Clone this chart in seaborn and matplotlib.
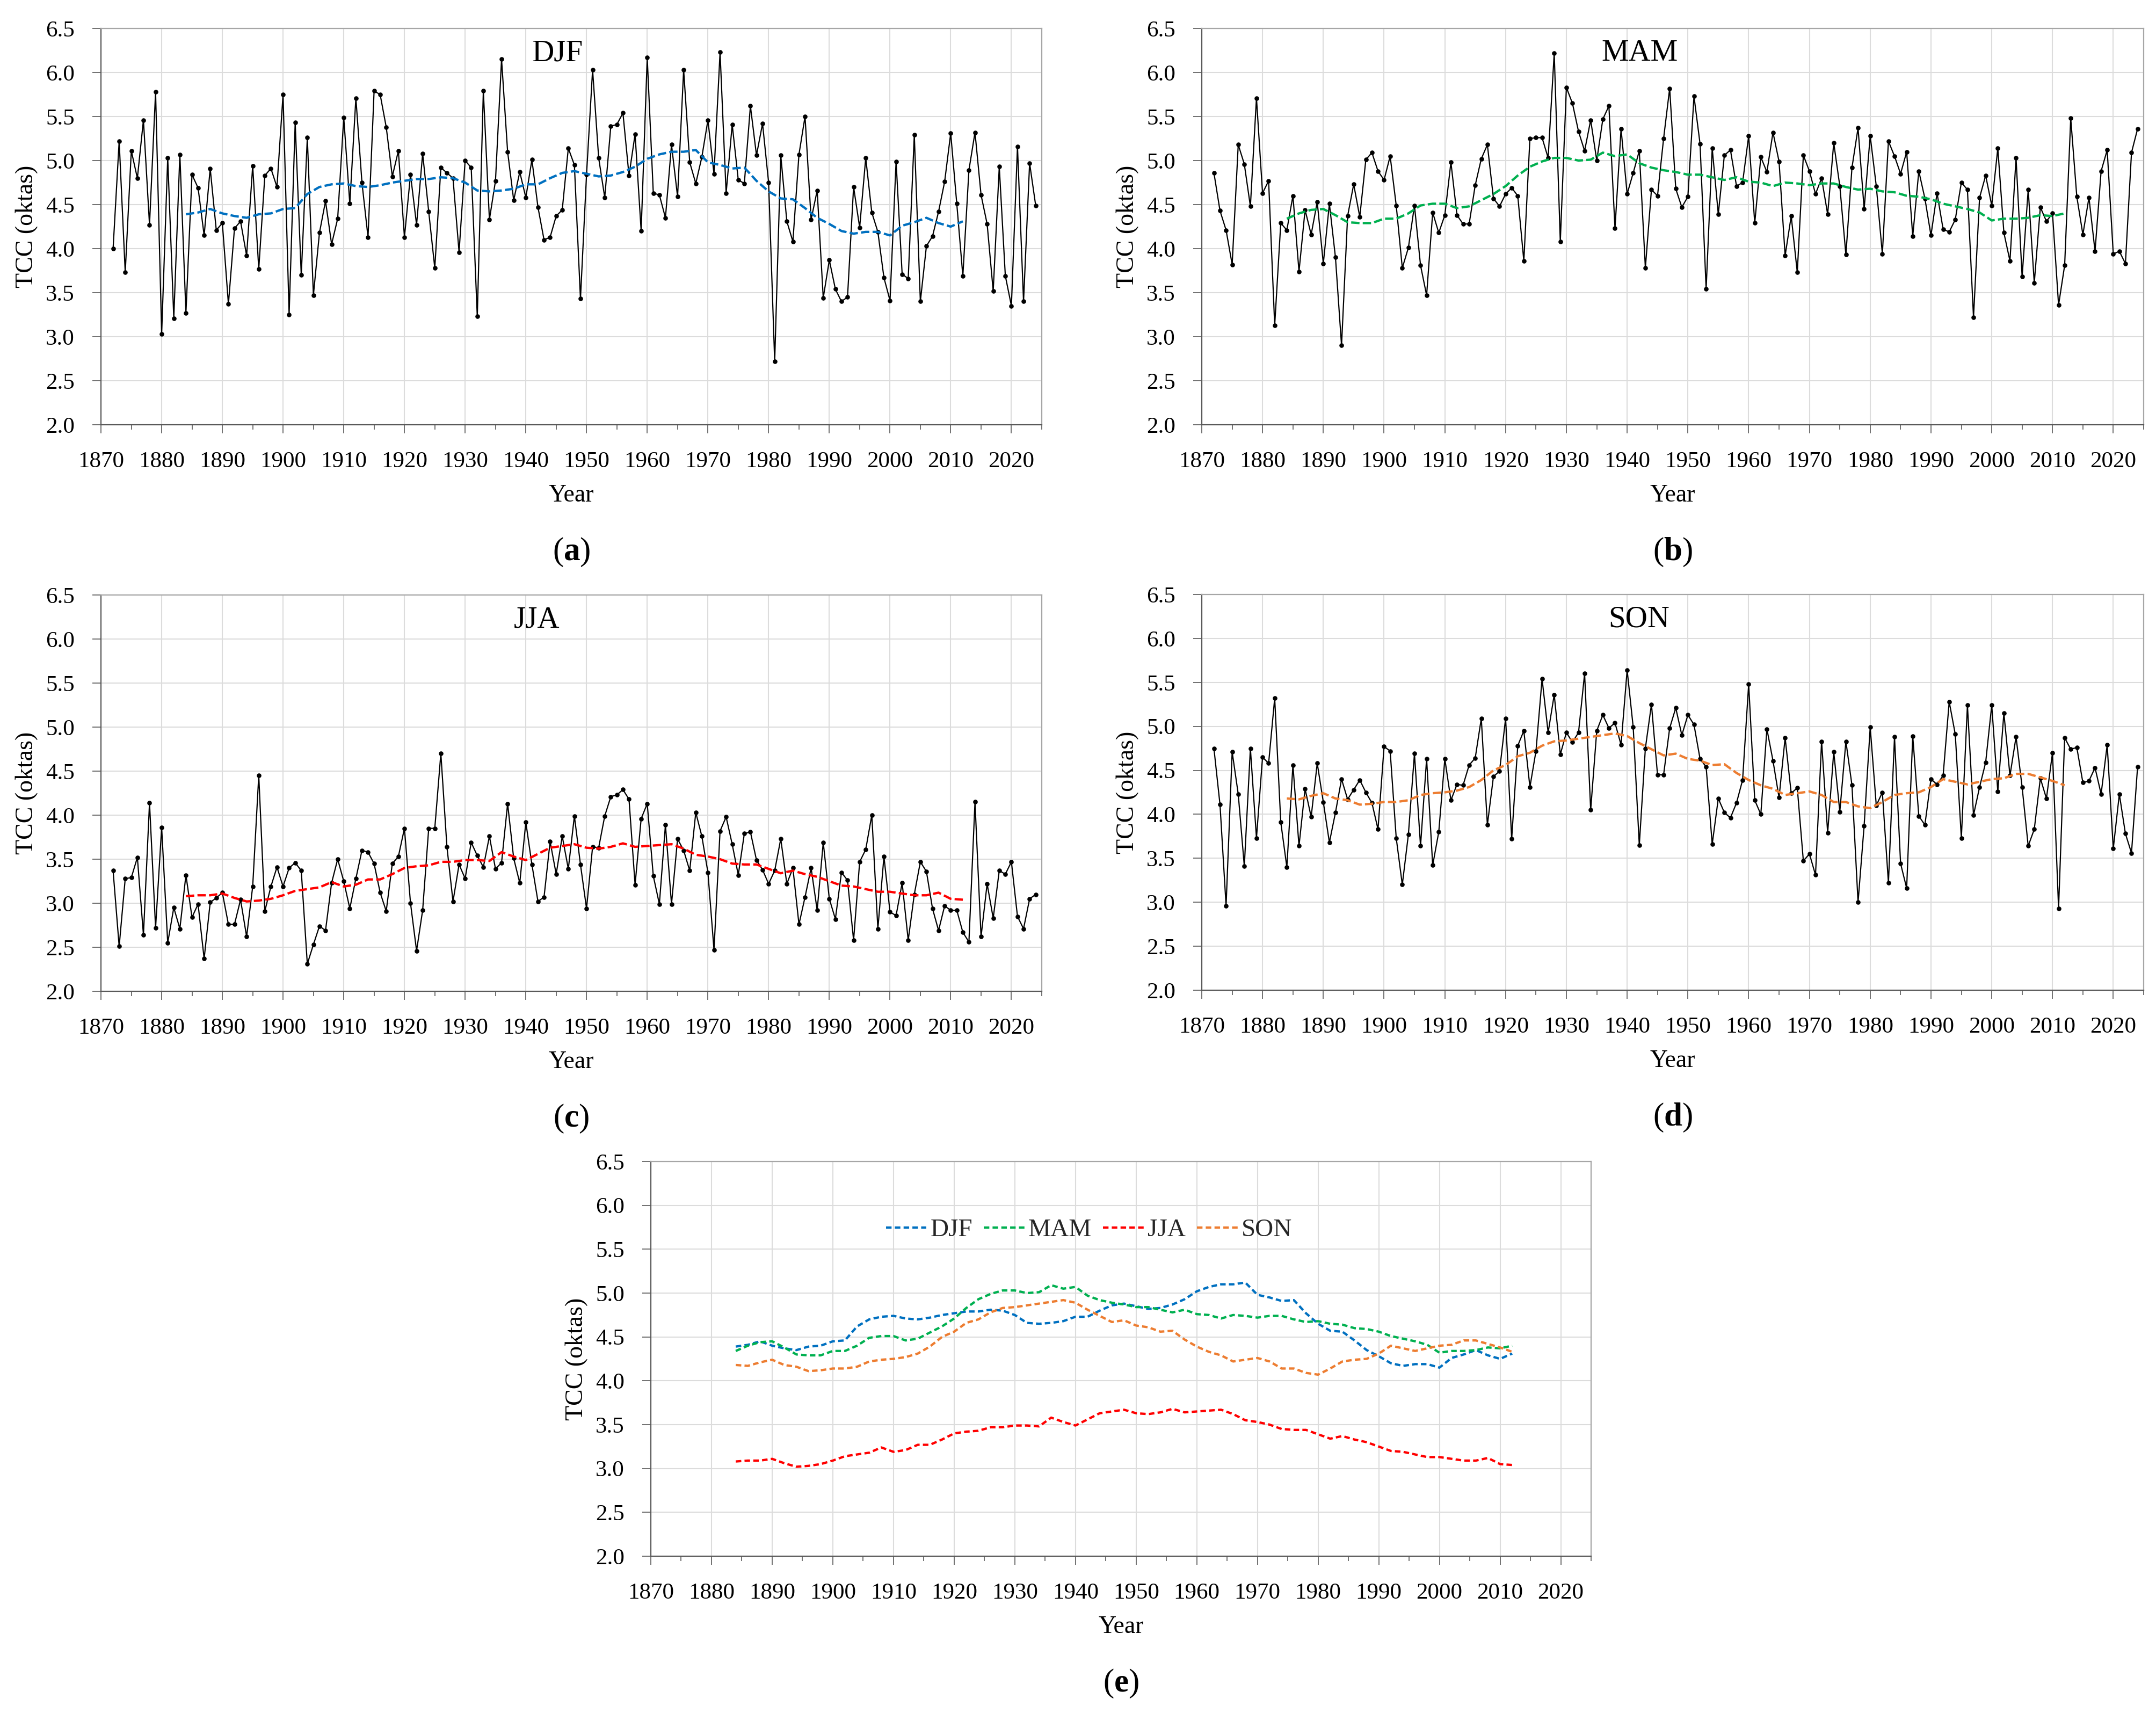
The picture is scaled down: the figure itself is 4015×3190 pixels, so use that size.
import pandas as pd
import seaborn as sns
import matplotlib.pyplot as plt
from matplotlib.ticker import MultipleLocator, FormatStrFormatter


# Lata pomiarów i lata średniej kroczącej (co 2 lata)
years = list(range(1872, 2025))
ma_years = list(range(1884, 2013, 2))

# Sezonowe TCC (oktas), 1872-2024
djf = [4.00, 5.22, 3.73, 5.11, 4.80, 5.46, 4.27, 5.78,
       3.03, 5.03, 3.21, 5.07, 3.27, 4.84, 4.69, 4.15, 4.91, 4.21,
       4.29, 3.37, 4.23, 4.31, 3.92, 4.94, 3.77, 4.83, 4.91, 4.70,
       5.75, 3.25, 5.43, 3.70, 5.26, 3.47, 4.18, 4.54, 4.05, 4.34,
       5.49, 4.51, 5.71, 4.75, 4.13, 5.79, 5.75, 5.38, 4.82, 5.11,
       4.13, 4.84, 4.27, 5.08, 4.42, 3.78, 4.92, 4.86, 4.80, 3.96,
       5.00, 4.92, 3.23, 5.79, 4.33, 4.77, 6.15, 5.10, 4.55, 4.87,
       4.58, 5.01, 4.47, 4.10, 4.13, 4.37, 4.44, 5.14, 4.95, 3.43,
       4.84, 6.03, 5.03, 4.58, 5.39, 5.41, 5.54, 4.83, 5.30, 4.20,
       6.17, 4.63, 4.61, 4.35, 5.18, 4.59, 6.03, 4.98, 4.74, 5.04,
       5.46, 4.85, 6.23, 4.63, 5.41, 4.78, 4.74, 5.62, 5.06, 5.42,
       4.75, 2.72, 5.06, 4.31, 4.08, 5.07, 5.50, 4.33, 4.66, 3.44,
       3.87, 3.54, 3.40, 3.45, 4.70, 4.24, 5.03, 4.41, 4.19, 3.67,
       3.41, 4.99, 3.71, 3.66, 5.29, 3.40, 4.03, 4.14, 4.42, 4.76,
       5.31, 4.51, 3.69, 4.89, 5.32, 4.61, 4.28, 3.52, 4.93, 3.69,
       3.35, 5.16, 3.40, 4.97, 4.49]

mam = [4.86, 4.43, 4.21, 3.82, 5.18, 4.96, 4.48, 5.71,
       4.63, 4.77, 3.13, 4.29, 4.21, 4.60, 3.74, 4.44, 4.16, 4.53,
       3.83, 4.51, 3.90, 2.90, 4.37, 4.73, 4.36, 5.01, 5.09, 4.88,
       4.78, 5.05, 4.49, 3.78, 4.01, 4.49, 3.81, 3.47, 4.41, 4.18,
       4.38, 4.98, 4.38, 4.28, 4.28, 4.72, 5.02, 5.18, 4.57, 4.48,
       4.62, 4.69, 4.60, 3.86, 5.25, 5.26, 5.26, 5.03, 6.22, 4.08,
       5.83, 5.65, 5.33, 5.11, 5.46, 5.00, 5.47, 5.62, 4.23, 5.36,
       4.62, 4.86, 5.11, 3.78, 4.67, 4.60, 5.25, 5.82, 4.68, 4.47,
       4.59, 5.73, 5.19, 3.54, 5.14, 4.39, 5.06, 5.12, 4.71, 4.75,
       5.28, 4.29, 5.04, 4.87, 5.32, 4.99, 3.92, 4.37, 3.73, 5.06,
       4.88, 4.62, 4.80, 4.39, 5.20, 4.71, 3.93, 4.92, 5.37, 4.45,
       5.28, 4.71, 3.94, 5.22, 5.05, 4.85, 5.10, 4.14, 4.88, 4.57,
       4.15, 4.63, 4.22, 4.19, 4.33, 4.75, 4.67, 3.22, 4.58, 4.83,
       4.49, 5.14, 4.18, 3.86, 5.03, 3.68, 4.67, 3.61, 4.47, 4.31,
       4.40, 3.36, 3.81, 5.48, 4.59, 4.16, 4.58, 3.97, 4.88, 5.12,
       3.94, 3.97, 3.83, 5.09, 5.36]

jja = [3.37, 2.51, 3.28, 3.29, 3.52, 2.64, 4.14, 2.72,
       3.86, 2.55, 2.95, 2.71, 3.32, 2.84, 2.99, 2.37, 3.01, 3.06,
       3.12, 2.76, 2.76, 3.04, 2.62, 3.19, 4.45, 2.91, 3.19, 3.41,
       3.19, 3.40, 3.46, 3.37, 2.31, 2.53, 2.74, 2.69, 3.23, 3.50,
       3.25, 2.94, 3.28, 3.60, 3.58, 3.45, 3.12, 2.91, 3.45, 3.53,
       3.85, 3.00, 2.46, 2.92, 3.85, 3.85, 4.70, 3.64, 3.02, 3.44,
       3.28, 3.69, 3.54, 3.41, 3.76, 3.39, 3.46, 4.13, 3.51, 3.23,
       3.92, 3.44, 3.02, 3.07, 3.70, 3.33, 3.76, 3.39, 3.99, 3.44,
       2.94, 3.64, 3.63, 3.99, 4.21, 4.23, 4.29, 4.18, 3.21, 3.96,
       4.13, 3.31, 2.99, 3.89, 2.99, 3.73, 3.60, 3.37, 4.03, 3.76,
       3.35, 2.47, 3.82, 3.98, 3.67, 3.32, 3.79, 3.81, 3.49, 3.38,
       3.22, 3.37, 3.73, 3.22, 3.40, 2.76, 3.07, 3.40, 2.92, 3.69,
       3.05, 2.82, 3.35, 3.26, 2.58, 3.47, 3.61, 4.00, 2.71, 3.53,
       2.90, 2.86, 3.23, 2.58, 3.10, 3.47, 3.36, 2.94, 2.69, 2.97,
       2.92, 2.92, 2.67, 2.56, 4.15, 2.62, 3.22, 2.83, 3.37, 3.33,
       3.47, 2.85, 2.71, 3.05, 3.10]

son = [4.75, 4.11, 2.96, 4.71, 4.23, 3.41, 4.75, 3.73,
       4.65, 4.58, 5.32, 3.91, 3.40, 4.56, 3.64, 4.29, 3.97, 4.58,
       4.14, 3.68, 4.02, 4.40, 4.17, 4.28, 4.39, 4.25, 4.13, 3.83,
       4.77, 4.72, 3.73, 3.20, 3.77, 4.69, 3.64, 4.63, 3.42, 3.80,
       4.63, 4.16, 4.34, 4.33, 4.56, 4.64, 5.09, 3.88, 4.43, 4.49,
       5.09, 3.72, 4.78, 4.95, 4.31, 4.72, 5.54, 4.93, 5.36, 4.68,
       4.93, 4.82, 4.93, 5.60, 4.05, 4.95, 5.13, 4.98, 5.04, 4.79,
       5.64, 4.99, 3.65, 4.75, 5.25, 4.45, 4.45, 4.98, 5.21, 4.90,
       5.13, 5.02, 4.63, 4.54, 3.66, 4.18, 4.02, 3.96, 4.13, 4.39,
       5.48, 4.16, 4.00, 4.97, 4.61, 4.19, 4.87, 4.24, 4.30, 3.47,
       3.55, 3.31, 4.83, 3.79, 4.71, 4.03, 4.83, 4.33, 3.00, 3.87,
       4.99, 4.10, 4.25, 3.22, 4.88, 3.44, 3.16, 4.89, 3.98, 3.88,
       4.40, 4.34, 4.44, 5.28, 4.91, 3.73, 5.24, 3.99, 4.31, 4.59,
       5.24, 4.26, 5.15, 4.44, 4.88, 4.31, 3.64, 3.83, 4.41, 4.18,
       4.70, 2.93, 4.87, 4.74, 4.76, 4.36, 4.38, 4.53, 4.23, 4.79,
       3.61, 4.23, 3.78, 3.56, 4.54]

# Średnie kroczące (1884-2012, co 2 lata)
djf_ma = [4.39, 4.41, 4.45, 4.40, 4.37, 4.35, 4.39, 4.40, 4.45, 4.46,
          4.62, 4.70, 4.73, 4.74, 4.71, 4.70, 4.72, 4.75, 4.77, 4.79,
          4.79, 4.81, 4.80, 4.75, 4.66, 4.65, 4.66, 4.68, 4.73, 4.73,
          4.80, 4.86, 4.88, 4.85, 4.82, 4.83, 4.87, 4.93, 5.02, 5.07,
          5.10, 5.10, 5.12, 4.98, 4.95, 4.91, 4.92, 4.77, 4.65, 4.57,
          4.56, 4.46, 4.35, 4.28, 4.20, 4.17, 4.19, 4.19, 4.15, 4.26,
          4.30, 4.35, 4.29, 4.25, 4.31]
mam_ma = [4.34, 4.40, 4.44, 4.45, 4.38, 4.30, 4.29, 4.29, 4.34, 4.34,
          4.40, 4.49, 4.51, 4.51, 4.46, 4.48, 4.55, 4.62, 4.71, 4.83,
          4.93, 4.99, 5.03, 5.03, 5.00, 5.01, 5.09, 5.05, 5.07, 4.97,
          4.92, 4.89, 4.87, 4.84, 4.84, 4.81, 4.78, 4.81, 4.76, 4.75,
          4.71, 4.75, 4.74, 4.72, 4.74, 4.74, 4.70, 4.67, 4.68, 4.65,
          4.64, 4.60, 4.59, 4.56, 4.51, 4.48, 4.45, 4.41, 4.32, 4.34,
          4.34, 4.35, 4.38, 4.37, 4.40]
jja_ma = [3.08, 3.09, 3.09, 3.11, 3.06, 3.02, 3.03, 3.05, 3.09, 3.14,
          3.16, 3.18, 3.24, 3.19, 3.21, 3.27, 3.27, 3.33, 3.40, 3.42,
          3.43, 3.47, 3.47, 3.49, 3.49, 3.48, 3.58, 3.53, 3.49, 3.56,
          3.63, 3.65, 3.67, 3.63, 3.62, 3.64, 3.68, 3.64, 3.65, 3.66,
          3.67, 3.62, 3.55, 3.53, 3.50, 3.45, 3.44, 3.44, 3.39, 3.34,
          3.37, 3.33, 3.30, 3.25, 3.20, 3.19, 3.16, 3.13, 3.13, 3.11,
          3.09, 3.09, 3.12, 3.05, 3.04]
son_ma = [4.18, 4.17, 4.21, 4.24, 4.18, 4.16, 4.11, 4.12, 4.14, 4.14,
          4.16, 4.22, 4.24, 4.25, 4.27, 4.31, 4.39, 4.50, 4.56, 4.66,
          4.70, 4.78, 4.83, 4.84, 4.86, 4.88, 4.90, 4.92, 4.89, 4.81,
          4.74, 4.67, 4.69, 4.63, 4.61, 4.56, 4.57, 4.47, 4.39, 4.33,
          4.29, 4.22, 4.24, 4.26, 4.22, 4.14, 4.14, 4.09, 4.07, 4.14,
          4.22, 4.24, 4.25, 4.31, 4.40, 4.37, 4.34, 4.37, 4.40, 4.41,
          4.46, 4.46, 4.42, 4.38, 4.33]

seasons = ['DJF', 'MAM', 'JJA', 'SON']
season_colors = {'DJF': '#0070C0', 'MAM': '#00B050', 'JJA': '#FF0000', 'SON': '#ED7D31'}

sns.set_theme(style='whitegrid')
plt.rcParams['font.family'] = ['Liberation Serif', 'DejaVu Serif']
plt.rcParams['mathtext.fontset'] = 'custom'
plt.rcParams['mathtext.rm'] = 'Liberation Serif'
plt.rcParams['mathtext.bf'] = 'Liberation Serif:bold'

W, H = 4015, 3190
fig = plt.figure(figsize=(W / 100, H / 100), dpi=100)
fig.patch.set_facecolor('white')


# Prostokąt osi z pikseli (lewo, góra, prawo, dół)
def px_rect(l, t, r, b):
    return [l / W, 1 - b / H, (r - l) / W, (b - t) / H]


def style_axes(ax):
    ax.set_xlim(1870, 2025)
    ax.set_ylim(2.0, 6.5)
    ax.xaxis.set_major_locator(MultipleLocator(10))
    ax.xaxis.set_minor_locator(MultipleLocator(5))
    ax.yaxis.set_major_locator(MultipleLocator(0.5))
    ax.yaxis.set_major_formatter(FormatStrFormatter('%.1f'))
    ax.set_facecolor('white')
    ax.grid(True, which='major', color='#dcdcdc', linewidth=1.5)
    ax.grid(False, which='minor')
    for side in ['top', 'right']:
        ax.spines[side].set_color('#a6a6a6')
        ax.spines[side].set_linewidth(1.6)
    for side in ['left', 'bottom']:
        ax.spines[side].set_color('#595959')
        ax.spines[side].set_linewidth(1.6)
    ax.tick_params(which='major', direction='out', length=11.5, width=1.2,
                   color='#595959', labelsize=31, pad=24, bottom=True, left=True,
                   labelcolor='black')
    ax.tick_params(axis='x', which='minor', direction='out', length=6.5, width=1.2,
                   color='#595959', bottom=True)
    ax.set_xlabel('Year', fontsize=33, color='black')
    ax.set_ylabel('TCC (oktas)', fontsize=33, color='black')
    ax.xaxis.set_label_coords(0.5, -0.179)
    ax.xaxis.label.set_va('center')
    ax.yaxis.set_label_coords(-0.079, 0.5)
    ax.yaxis.label.set_va('center')


def panel_label(cx, cy, letter):
    fig.text(cx / W, 1 - cy / H, '(' + r'$\mathbf{' + letter + '}$' + ')',
             ha='center', va='center', fontsize=44, color='black')


panels = [
    ('a', 'DJF', djf, djf_ma, (188, 53, 1940, 791), 0.485),
    ('b', 'MAM', mam, mam_ma, (2238, 53, 3992, 791), 0.465),
    ('c', 'JJA', jja, jja_ma, (188, 1108, 1940, 1846), 0.463),
    ('d', 'SON', son, son_ma, (2238, 1107, 3992, 1844), 0.464),
]

for letter, season, values, ma_values, box, title_x in panels:
    ax = fig.add_axes(px_rect(*box))
    sns.lineplot(x=years, y=values, ax=ax, color='black', linewidth=1.6,
                 marker='o', markersize=6.2, markeredgewidth=0, markerfacecolor='black')
    sns.lineplot(x=ma_years, y=ma_values, ax=ax, color=season_colors[season],
                 linewidth=3.1, linestyle=(0, (3.6, 1.4)))
    style_axes(ax)
    ax.text(title_x, 0.937, season, transform=ax.transAxes, ha='center', va='center',
            fontsize=41, color='black')
    cx = (box[0] + box[2]) / 2
    panel_label(cx, box[3] + 237, letter)

# Panel (e): wszystkie średnie kroczące razem
ma_df = pd.DataFrame({
    'Year': ma_years * 4,
    'TCC': djf_ma + mam_ma + jja_ma + son_ma,
    'Season': [s for s in seasons for _ in ma_years],
})

box_e = (1212, 2163, 2963, 2898)
ax_e = fig.add_axes(px_rect(*box_e))
for season in seasons:
    sub = ma_df[ma_df['Season'] == season]
    sns.lineplot(data=sub, x='Year', y='TCC', ax=ax_e, color=season_colors[season],
                 linewidth=3.1, linestyle=(0, (2.4, 1.4)), label=season)
style_axes(ax_e)
ax_e.legend(loc='center', bbox_to_anchor=(0.466, 0.826), ncol=4, frameon=False,
            fontsize=34, handlelength=1.6, handletextpad=0.15, columnspacing=0.45,
            borderaxespad=0)
panel_label((box_e[0] + box_e[2]) / 2, box_e[3] + 237, 'e')

fig.savefig('out.png', dpi=100, facecolor='white')
